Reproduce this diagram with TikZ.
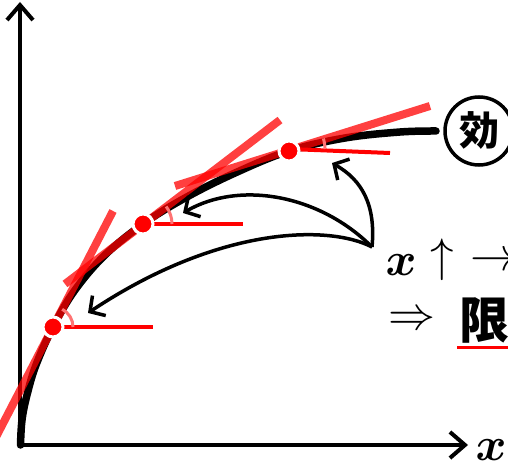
\RequirePackage{fix-cm}
\documentclass[tikz,border=0pt]{standalone}
\usepackage{amsmath,amssymb,bm}
\usepackage{fontspec}
\newfontfamily\jpfont{Noto Sans CJK JP}
\usetikzlibrary{arrows.meta}

\begin{document}
\begin{tikzpicture}[x=1pt,y=-1pt]
\tikzset{
  axis/.style={line width=4pt,line join=miter,{Straight Barb[length=15pt,width=26pt]}-{Straight Barb[length=15pt,width=26pt]}},
  curve/.style={line width=7.5pt,line cap=round},
  tangent/.style={line width=8pt,red,opacity=0.75},
  level/.style={line width=4pt,red},
  anglearc/.style={line width=3pt,red!55},
  dot/.style={circle,fill=red,draw=white,line width=3pt,minimum size=20pt,inner sep=0pt},
  pointer/.style={line width=3.5pt,-{Straight Barb[length=11pt,width=24pt]}},
  bigtext/.style={inner sep=0pt,font=\fontsize{47}{47}\selectfont}
}
\clip (0,0) rectangle (508,473);
% axes
\coordinate (n_top) at (20,2);
\coordinate (n_o) at (20,445);
\coordinate (n_right) at (468,445);
\draw[axis] (n_top) -- (n_o) -- (n_right);
\node[bigtext] (n_xlabel) at (491,450) {$\bm{x}$};
% the curve
\draw[curve] plot[smooth,tension=0.6] coordinates {(20.5,445) (22,420) (27,395) (36,365) (53,327) (75,290) (105,255) (143,224) (185,198) (235,173) (289,151) (345,138) (400,132) (436,131)};
\node[circle,draw,line width=3.5pt,minimum size=68pt,inner sep=0pt,font=\jpfont\bfseries\fontsize{40}{40}\selectfont] (n_eff) at (479,131) {効};
% points on the curve
\coordinate (n_p1) at (53,327);
\coordinate (n_p2) at (143,224);
\coordinate (n_p3) at (289,151);
% tangents
\coordinate (n_a1) at (-4,437);
\coordinate (n_b1) at (113,211);
\coordinate (n_a2) at (65,284);
\coordinate (n_b2) at (280,120);
\coordinate (n_a3) at (175,186);
\coordinate (n_b3) at (430,106);
\draw[tangent] (n_a1) -- (n_b1);
\draw[tangent] (n_a2) -- (n_b2);
\draw[tangent] (n_a3) -- (n_b3);
% horizontals
\coordinate (n_h1) at (153,327);
\coordinate (n_h2) at (243,224);
\coordinate (n_h3) at (390,153);
\draw[level] (n_p1) -- (n_h1);
\draw[level] (n_p2) -- (n_h2);
\draw[level] ([yshift=2]n_p3) -- (n_h3);
% angles
\draw[anglearc] ([xshift=20]n_p1) arc[start angle=0,end angle=-62.6,radius=20];
\draw[anglearc] ([xshift=29]n_p2) arc[start angle=0,end angle=-37,radius=29];
\draw[anglearc] ([xshift=36,yshift=2]n_p3) arc[start angle=0,end angle=-17,radius=36];
\node[dot] (n_d1) at (n_p1) {};
\node[dot] (n_d2) at (n_p2) {};
\node[dot] (n_d3) at (n_p3) {};
% arrows
\coordinate (n_src) at (372,247);
\coordinate (n_t1) at (88,313);
\coordinate (n_t2) at (183,213);
\coordinate (n_t3) at (332,163);
\draw[pointer] (n_src) .. controls (376,205) and (362,180) .. (n_t3);
\draw[pointer] (n_src) .. controls (320,195) and (240,180) .. (n_t2);
\draw[pointer] (n_src) .. controls (330,225) and (220,225) .. (n_t1);
% text
\node[bigtext] (n_x) at (401,265) {$\bm{x}$};
\node[bigtext] (n_up) at (442,260) {$\uparrow$};
\node[bigtext] (n_to) at (494,262) {$\rightarrow$};
\node[bigtext] (n_then) at (412,321) {$\Rightarrow$};
\node[inner sep=0pt,font=\jpfont\bfseries\fontsize{50}{50}\selectfont] (n_lim) at (484,320) {限};
\coordinate (n_u1) at (457,347);
\coordinate (n_u2) at (510,347);
\draw[line width=3pt,red] (n_u1) -- (n_u2);
\end{tikzpicture}
\end{document}
